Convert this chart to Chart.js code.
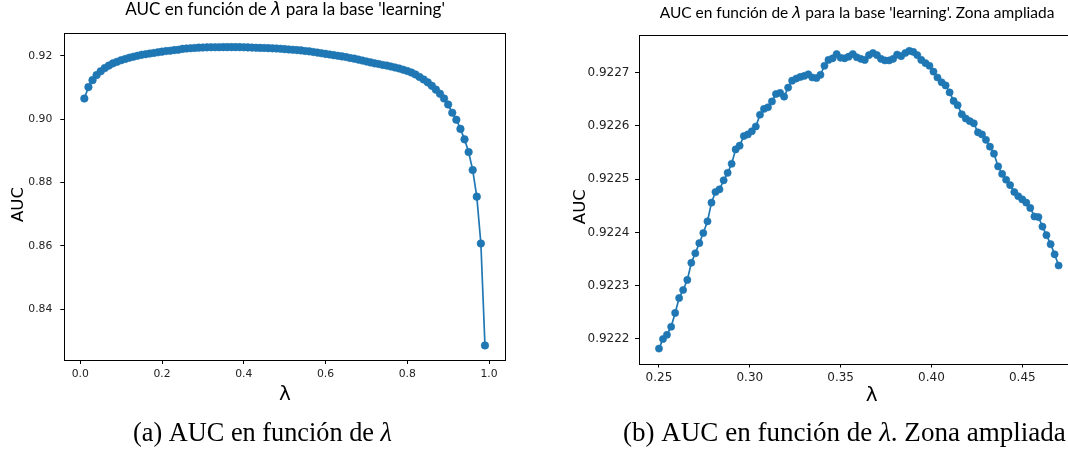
<!DOCTYPE html>
<html>
<head>
<meta charset="utf-8">
<script src="https://cdn.jsdelivr.net/npm/chart.js@4/dist/chart.umd.min.js"></script>
<style>
  html, body { margin: 0; padding: 0; background: #fff; width: 1068px; height: 450px; overflow: hidden; }
  #wrap { position: relative; width: 1068px; height: 450px; overflow: hidden; }
  canvas { position: absolute; top: 0; }
</style>
</head>
<body>
<div id="wrap">
  <canvas id="cA" width="540" height="450" style="left:0px"></canvas>
  <canvas id="cB" width="560" height="450" style="left:540px"></canvas>
</div>
<script>
// ---------- DATA ----------
const lambdaA = [0.01,0.02,0.03,0.04,0.05,0.06,0.07,0.08,0.09,0.10,
  0.11,0.12,0.13,0.14,0.15,0.16,0.17,0.18,0.19,0.20,
  0.21,0.22,0.23,0.24,0.25,0.26,0.27,0.28,0.29,0.30,
  0.31,0.32,0.33,0.34,0.35,0.36,0.37,0.38,0.39,0.40,
  0.41,0.42,0.43,0.44,0.45,0.46,0.47,0.48,0.49,0.50,
  0.51,0.52,0.53,0.54,0.55,0.56,0.57,0.58,0.59,0.60,
  0.61,0.62,0.63,0.64,0.65,0.66,0.67,0.68,0.69,0.70,
  0.71,0.72,0.73,0.74,0.75,0.76,0.77,0.78,0.79,0.80,
  0.81,0.82,0.83,0.84,0.85,0.86,0.87,0.88,0.89,0.90,
  0.91,0.92,0.93,0.94,0.95,0.96,0.97,0.98,0.99];
const aucA = [0.9065,0.9101,0.9123,0.9139,0.9151,0.9161,0.9169,0.9176,0.9181,0.9186,
  0.9190,0.9194,0.9197,0.9200,0.9203,0.9205,0.9207,0.9209,0.9211,0.9213,
  0.9215,0.9216,0.9218,0.9219,0.92218,0.92229,0.92238,0.92248,0.92256,0.92260,
  0.92266,0.92269,0.92269,0.92271,0.92273,0.92273,0.92273,0.92273,0.92272,0.92269,
  0.92264,0.92259,0.92254,0.92249,0.92246,0.92241,0.92234,0.9223,0.9222,0.9221,
  0.9220,0.9219,0.9218,0.9217,0.9215,0.9214,0.9212,0.9210,0.9208,0.9206,
  0.9204,0.9202,0.9200,0.9198,0.9196,0.9193,0.9191,0.9188,0.9185,0.9182,
  0.9179,0.9176,0.9174,0.9171,0.9169,0.9166,0.9163,0.9160,0.9156,0.9152,
  0.9147,0.9141,0.9133,0.9125,0.9116,0.9105,0.9093,0.9080,0.9065,0.9046,
  0.9020,0.8998,0.8969,0.8936,0.8896,0.8839,0.8755,0.8607,0.8285];

const lambdaB = [0.2500,0.2522,0.2544,0.2567,0.2589,0.2611,0.2633,0.2656,0.2678,0.2700,
  0.2722,0.2744,0.2767,0.2789,0.2811,0.2833,0.2856,0.2878,0.2900,0.2922,
  0.2944,0.2967,0.2989,0.3011,0.3033,0.3056,0.3078,0.3100,0.3122,0.3144,
  0.3167,0.3189,0.3211,0.3233,0.3256,0.3278,0.3300,0.3322,0.3344,0.3367,
  0.3389,0.3411,0.3433,0.3456,0.3478,0.3500,0.3522,0.3544,0.3567,0.3589,
  0.3611,0.3633,0.3656,0.3678,0.3700,0.3722,0.3744,0.3767,0.3789,0.3811,
  0.3833,0.3856,0.3878,0.3900,0.3922,0.3944,0.3967,0.3989,0.4011,0.4033,
  0.4056,0.4078,0.4100,0.4122,0.4144,0.4167,0.4189,0.4211,0.4233,0.4256,
  0.4278,0.4300,0.4322,0.4344,0.4367,0.4389,0.4411,0.4433,0.4456,0.4478,
  0.4500,0.4522,0.4544,0.4567,0.4589,0.4611,0.4633,0.4656,0.4678,0.4700];
const aucB = [0.922182,0.922200,0.922208,0.922223,0.922249,0.922277,0.922292,0.922311,0.922343,0.922361,
  0.922380,0.922399,0.922421,0.922456,0.922476,0.922481,0.922498,0.922512,0.922529,0.922556,
  0.922563,0.922581,0.922584,0.922590,0.922599,0.922621,0.922632,0.922635,0.922646,0.922660,
  0.922662,0.922655,0.922672,0.922685,0.922689,0.922692,0.922694,0.922697,0.922691,0.922690,
  0.922696,0.922713,0.922724,0.922727,0.922735,0.922728,0.922727,0.922730,0.922735,0.922729,
  0.922726,0.922724,0.922733,0.922737,0.922733,0.922726,0.922723,0.922723,0.922726,0.922734,
  0.922731,0.922737,0.922741,0.922739,0.922733,0.922724,0.922718,0.922713,0.922702,0.922691,
  0.922682,0.922676,0.922663,0.922647,0.922639,0.922622,0.922614,0.922609,0.922605,0.922588,
  0.922584,0.922574,0.922561,0.922548,0.922524,0.922510,0.922499,0.922489,0.922476,0.922468,
  0.922462,0.922456,0.922446,0.922430,0.922429,0.922411,0.922395,0.922378,0.922359,0.922338];

const xTicksA = [0.0, 0.2, 0.4, 0.6, 0.8, 1.0];
const yTicksA = [0.84, 0.86, 0.88, 0.90, 0.92];
const xTicksB = [0.25, 0.30, 0.35, 0.40, 0.45];
const yTicksB = [0.9222, 0.9223, 0.9224, 0.9225, 0.9226, 0.9227];

const titleA = [{t:"AUC en función de ", fam:"Lato"}, {t:"λ", fam:"DejaVu Sans", italic:true}, {t:" para la base 'learning'", fam:"Lato"}];
const titleB = [{t:"AUC en función de ", fam:"Lato"}, {t:"λ", fam:"DejaVu Sans", italic:true}, {t:" para la base 'learning'. Zona ampliada", fam:"Lato"}];
const captionA = [{t:"(a) AUC en función de ", fam:"Liberation Serif"}, {t:"λ", fam:"Liberation Serif", italic:true}];
const captionB = [{t:"(b) AUC en función de ", fam:"Liberation Serif"}, {t:"λ", fam:"Liberation Serif", italic:true}, {t:". Zona ampliada", fam:"Liberation Serif"}];
const yLabel = "AUC";
const xLabel = "λ";

// ---------- HELPERS ----------
const BLUE = '#1f77b4';
Chart.defaults.font.family = 'DejaVu Sans';

function fontOf(r, size) { return (r.italic ? 'italic ' : '') + size + 'px "' + r.fam + '"'; }

function drawRuns(ctx, it) {
  ctx.save();
  ctx.fillStyle = it.color || '#000';
  let size = it.size;
  const measure = (s) => it.runs.reduce((acc, r) => { ctx.font = fontOf(r, s); return acc + ctx.measureText(r.t).width; }, 0);
  let total = measure(size);
  if (it.w) { size = size * it.w / total; total = measure(size); }
  ctx.textBaseline = it.rotate ? 'middle' : 'alphabetic';
  ctx.textAlign = 'left';
  let x0, y0;
  if (it.rotate) {
    ctx.translate(it.x, it.y);
    ctx.rotate(-Math.PI / 2);
    x0 = -total / 2; y0 = 0;
  } else {
    x0 = it.align === 'left' ? it.x : it.x - total / 2;
    y0 = it.y;
  }
  for (const r of it.runs) {
    ctx.font = fontOf(r, size);
    ctx.fillText(r.t, x0, y0);
    x0 += ctx.measureText(r.t).width;
  }
  ctx.restore();
}

function overlay(id, items) {
  return {
    id: id,
    afterDraw(chart) {
      const ctx = chart.ctx, a = chart.chartArea;
      ctx.save();
      ctx.strokeStyle = '#000';
      ctx.lineWidth = 1;
      const l = Math.round(a.left) + 0.5, t = Math.round(a.top) + 0.5;
      const r = Math.round(a.right) + 0.5, b = Math.round(a.bottom) + 0.5;
      ctx.strokeRect(l, t, r - l, b - t);
      ctx.restore();
      items.forEach(it => drawRuns(ctx, it));
    }
  };
}

function makeChart(canvasId, xs, ys, cfg) {
  const pts = xs.map((x, i) => ({x: x, y: ys[i]}));
  return new Chart(document.getElementById(canvasId), {
    type: 'line',
    data: { datasets: [{
      data: pts,
      borderColor: BLUE, backgroundColor: BLUE,
      borderWidth: 1.7, pointRadius: cfg.pr, pointBorderWidth: 0.6, pointBorderColor: BLUE,
      pointHoverRadius: cfg.pr, tension: 0, fill: false
    }]},
    options: {
      responsive: false, animation: false, devicePixelRatio: 1,
      events: [],
      layout: { padding: cfg.pad },
      plugins: { legend: { display: false }, tooltip: { enabled: false }, title: { display: false } },
      scales: {
        x: {
          type: 'linear', min: cfg.xr[0], max: cfg.xr[1],
          afterFit: (s) => { s.height = cfg.xh; },
          afterBuildTicks: (s) => { s.ticks = cfg.xt.map(v => ({value: v})); },
          grid: { display: true, drawOnChartArea: false, drawTicks: true, tickLength: 4, color: '#000', lineWidth: 1 },
          border: { display: false },
          ticks: { callback: (v) => Number(v).toFixed(cfg.xd), color: '#222', font: { size: cfg.fs }, padding: cfg.xpad, maxRotation: 0, autoSkip: false }
        },
        y: {
          type: 'linear', min: cfg.yr[0], max: cfg.yr[1],
          afterFit: (s) => { s.width = cfg.yw; },
          afterBuildTicks: (s) => { s.ticks = cfg.yt.map(v => ({value: v})); },
          grid: { display: true, drawOnChartArea: false, drawTicks: true, tickLength: 4, color: '#000', lineWidth: 1 },
          border: { display: false },
          ticks: { callback: (v) => Number(v).toFixed(cfg.yd), color: '#222', font: { size: cfg.fs }, padding: cfg.ypad, autoSkip: false }
        }
      }
    },
    plugins: [overlay('ov_' + canvasId, cfg.texts)]
  });
}

// ---------- CHART A ----------
makeChart('cA', lambdaA, aucA, {
  pr: 3.8, fs: 10.8, xd: 1, yd: 2, xpad: 3.5, ypad: 8,
  xr: [-0.039, 1.039], yr: [0.8239, 0.9271],
  xt: xTicksA, yt: yTicksA,
  yw: 64.3, xh: 40,
  pad: { left: 0, top: 33.3, right: 35, bottom: 50 },
  texts: [
    { runs: titleA, x: 285, y: 15, size: 14, w: 320 },
    { runs: [{t: yLabel, fam: 'DejaVu Sans'}], x: 18.3, y: 204.5, size: 16.5, rotate: true },
    { runs: [{t: xLabel, fam: 'DejaVu Sans'}], x: 285, y: 400, size: 20 },
    { runs: captionA, x: 262.5, y: 441, size: 21, w: 259 }
  ]
});

// ---------- CHART B ----------
makeChart('cB', lambdaB, aucB, {
  pr: 3.6, fs: 12, xd: 2, yd: 4, xpad: 3.5, ypad: 5.5,
  xr: [0.239, 0.481], yr: [0.922154, 0.92277],
  xt: xTicksB, yt: yTicksB,
  yw: 99, xh: 40,
  pad: { left: 0, top: 35.4, right: 21.4, bottom: 46.5 },
  texts: [
    { runs: titleB, x: 317, y: 17.5, size: 13, w: 395 },
    { runs: [{t: yLabel, fam: 'DejaVu Sans'}], x: 41, y: 206.7, size: 16.5, rotate: true },
    { runs: [{t: xLabel, fam: 'DejaVu Sans'}], x: 331.6, y: 401, size: 20 },
    { runs: captionB, x: 83, y: 441, size: 21, w: 443, align: 'left' }
  ]
});
</script>
</body>
</html>
